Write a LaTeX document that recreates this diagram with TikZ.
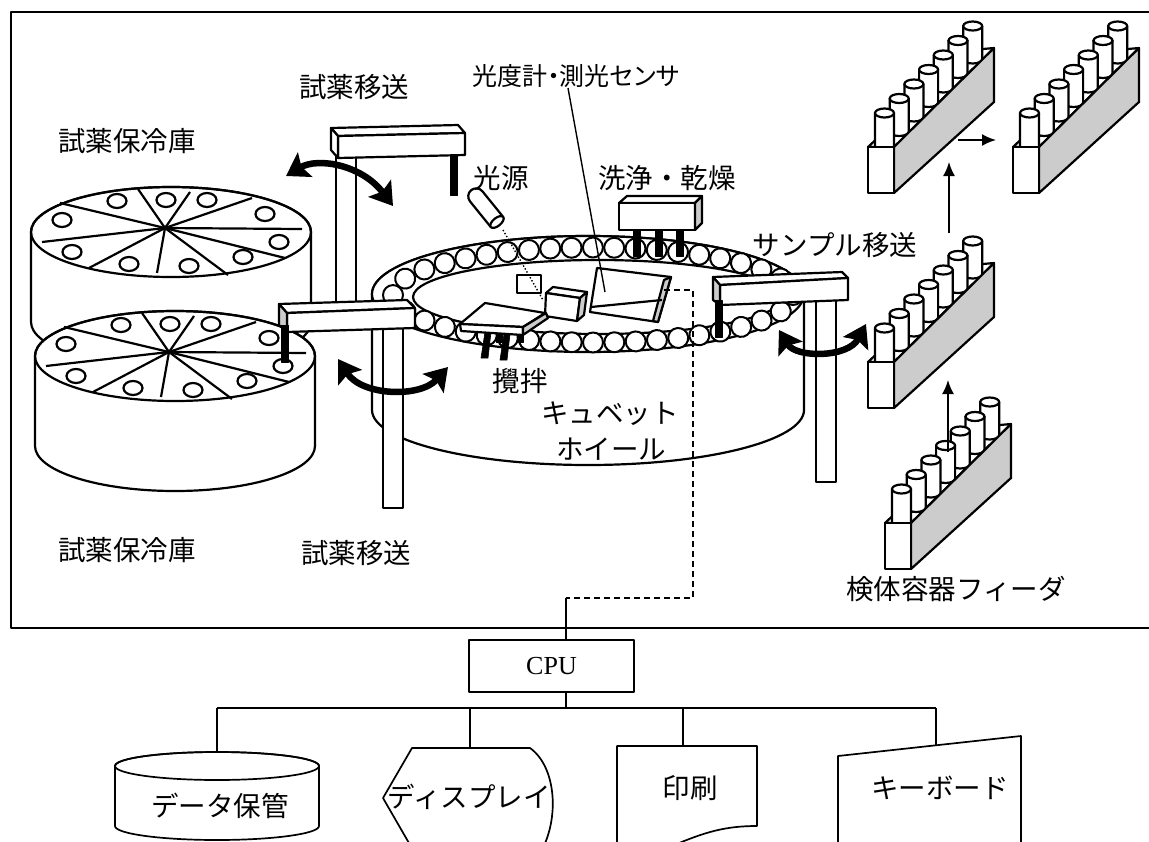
\documentclass[tikz,border=0pt]{standalone}
\usepackage{fontspec}
\newfontfamily\jpfont{Noto Sans CJK JP}
\newfontfamily\jppfont[RawFeature=+palt]{Noto Sans CJK JP}
\newfontfamily\cpufont{Liberation Serif}
\usetikzlibrary{arrows.meta,decorations.markings}

\newcommand\jp{\jpfont\fontsize{27.5}{30}\selectfont}
\newcommand\jpsmall{\jppfont\fontsize{25}{28}\selectfont}

% spokes and wells on the top of a reagent cooler
\newcommand\coolertop{%
  \foreach \ex/\ey in {-111/-29,-33/-43,19/-40,81/-34,131/-3,114/26,57/43,-14/41,-82/36,-129/10}
    \draw (-6,-4) -- (\ex,\ey);
  \foreach \wx/\wy in {-54/-31,-5/-32,36/-32,94/-18,108/10,72/25,18/34,-42/32,-99/20,-109/-12}
    \draw[fill=white] (\wx,\wy) ellipse [x radius=9.5, y radius=7];
}
% reagent cooler: cylinder centred on its top face
\newcommand\cooler[2]{%
  \begin{scope}[shift={(#1,#2)}]
    \filldraw[fill=white] (-140,0) -- (-140,90)
      arc[start angle=180,end angle=0,x radius=140,y radius=45] -- (140,0)
      arc[start angle=0,end angle=-180,x radius=140,y radius=45] -- cycle;
    \draw (0,0) ellipse [x radius=140, y radius=45];
    \coolertop
  \end{scope}}
% sample rack with seven tubes; #1,#2 = top-left corner of the front face
\newcommand\rack[2]{%
  \begin{scope}[shift={(#1,#2)}]
    \filldraw[fill=white] (0,0) -- (104,-97) -- (126,-99) -- (26,0) -- cycle;
    \foreach \i in {6,5,...,0} {
      \pgfmathsetmacro\tx{16.5+14.7*\i}
      \pgfmathsetmacro\tb{-1-14.5*\i}
      \pgfmathsetmacro\tt{\tb-33}
      \filldraw[fill=white] (\tx-9.5,\tt) -- (\tx-9.5,\tb)
        arc[start angle=180,end angle=0,x radius=9.5,y radius=4.5] -- (\tx+9.5,\tt) -- cycle;
      \draw[fill=white] (\tx,\tt) ellipse [x radius=9.5, y radius=4.5];
    }
    \filldraw[fill=gray!40] (26,0) -- (126,-99) -- (126,-45) -- (26,46) -- cycle;
    \filldraw[fill=white] (0,0) rectangle (26,46);
  \end{scope}}

\tikzset{
  part/.style={line width=2.2pt, line join=round},
  rod/.style={fill=black, draw=black, line width=0.6pt},
  shade/.style={fill=gray!40},
  swing/.style={line width=6.5pt,
    arrows={Stealth[length=22pt,width=28pt,inset=4pt]-Stealth[length=22pt,width=28pt,inset=4pt]}},
  feed/.style={line width=1.8pt, -{Latex[length=14pt,width=12pt]}},
  signal/.style={line width=1.7pt, dash pattern=on 6pt off 4pt},
  flow/.style={line width=1.7pt},
  lbl/.style={font=\jp, inner sep=0pt},
}

\begin{document}
\begin{tikzpicture}[x=1pt, y=-1pt, part]
\useasboundingbox (0,0) rectangle (1149,841);

% analyser frame
\draw[line width=2.6pt] (11,12) rectangle (1165,628);

% reagent coolers
\cooler{171}{232}
\cooler{175}{356}

% upper reagent arm: post and beam
\filldraw[fill=white] (336,157) rectangle (356,304);
\filldraw[fill=white] (331,128) -- (458,125) -- (465,133) -- (338,136) -- cycle;
\filldraw[fill=white] (338,136) -- (465,133) -- (465,155) -- (338,158) -- cycle;
\filldraw[fill=white] (331,128) -- (338,136) -- (338,158) -- (331,150) -- cycle;
\filldraw[rod] (450,155) rectangle (457,195);

% cuvette wheel
\filldraw[fill=white] (372,294) -- (372,410)
  arc[start angle=180,end angle=0,x radius=216,y radius=55] -- (804,294)
  arc[start angle=0,end angle=-180,x radius=216,y radius=58] -- cycle;
\draw[fill=white] (588,294) ellipse [x radius=216, y radius=58];
\draw[fill=white] (598,297) ellipse [x radius=185, y radius=37];
\path[decorate, decoration={markings,
    mark=between positions 0 and 0.99 step 0.025 with
      {\draw[fill=white, line width=2pt] (0,0) circle [radius=10pt];}}]
  (593,295) ellipse [x radius=200, y radius=47.5];

% photometer and sensor
\filldraw[fill=white] (597,268) -- (671,277) -- (658,322) -- (590,312) -- cycle;
\filldraw[shade] (664,280) -- (671,277) -- (658,322) -- (653,321) -- cycle;
\draw (591,307) -- (662,300);
\filldraw[fill=white] (546,293) -- (553,287) -- (587,292) -- (580,298) -- cycle;
\filldraw[fill=white] (546,293) -- (580,298) -- (577,321) -- (545,316) -- cycle;
\filldraw[shade] (580,298) -- (587,292) -- (584,315) -- (577,321) -- cycle;
\draw[fill=white] (517,275) rectangle (541,293);

% stirrer
\filldraw[rod] (485,332) -- (491,332) -- (488,358) -- (481,358) -- cycle;
\filldraw[rod] (504,334) -- (510,334) -- (507,360) -- (500,360) -- cycle;
\filldraw[rod] (496,333) rectangle (502,342);
\filldraw[rod] (517,333) rectangle (523,342);
\filldraw[fill=white] (460,324) -- (485,303) -- (545,313) -- (523,327) -- cycle;
\filldraw[fill=white] (460,324) -- (523,327) -- (523,335) -- (461,331) -- cycle;
\filldraw[shade] (523,327) -- (546,313) -- (548,318) -- (523,335) -- cycle;

% light source and optical path
\draw[line width=1.4pt, dotted] (503,230) -- (543,300);
\begin{scope}[shift={(497,222)}, rotate=39]
  \filldraw[fill=white] (-8,0) -- (-8,-33)
    arc[start angle=180,end angle=360,radius=8] -- (8,0) -- cycle;
  \draw[fill=white] (0,0) ellipse [x radius=8, y radius=4];
\end{scope}

% washing and drying unit
\filldraw[fill=white] (619,203) -- (627,196) -- (702,196) -- (695,203) -- cycle;
\filldraw[fill=white] (619,203) rectangle (695,230);
\filldraw[shade] (695,203) -- (702,196) -- (702,223) -- (695,230) -- cycle;
\foreach \rx in {633,655,676}
  \filldraw[rod] (\rx,230) rectangle (\rx+7,256);

% lower reagent arm
\filldraw[fill=white] (383,328) rectangle (403,508);
\filldraw[fill=white] (279,304) -- (407,300) -- (415,308) -- (287,313) -- cycle;
\filldraw[fill=white] (287,313) -- (415,308) -- (415,328) -- (287,332) -- cycle;
\filldraw[shade] (279,304) -- (287,313) -- (287,332) -- (279,325) -- cycle;
\filldraw[rod] (281,325) rectangle (288,362);

% sample arm
\filldraw[fill=white] (816,298) rectangle (836,482);
\filldraw[fill=white] (713,277) -- (842,272) -- (848,278) -- (720,285) -- cycle;
\filldraw[fill=white] (720,285) -- (848,278) -- (848,300) -- (720,305) -- cycle;
\filldraw[shade] (713,277) -- (720,285) -- (720,305) -- (713,300) -- cycle;
\filldraw[rod] (715,300) rectangle (722,337);

% swing arrows of the arms
\draw[swing] (286,176) .. controls (318,157) and (362,165) .. (393,206);
\draw[swing] (338,359) .. controls (362,396) and (420,398) .. (448,367);
\draw[swing] (779,330) .. controls (796,358) and (848,358) .. (866,324);

% sample racks
\rack{868}{147}
\rack{1013}{147}
\rack{868}{362}
\rack{885}{523}
\coordinate (r4) at (948,452);
\coordinate (r3) at (948,380);
\coordinate (r3b) at (949,233);
\coordinate (r1) at (949,162);
\coordinate (r1r) at (958,140);
\coordinate (r2) at (996,140);
\draw[feed] (r4) -- (r3);
\draw[feed] (r3b) -- (r1);
\draw[feed] (r1r) -- (r2);

% signal path to the controller
\node[draw, flow, minimum width=165pt, minimum height=52pt, inner sep=0pt,
      font=\cpufont\fontsize{26}{28}\selectfont] (cpu) at (551.5,666) {CPU};
\coordinate (photo) at (664,290);
\coordinate (tap) at (566,598);
\draw[signal] (photo) -- (693,290) -- (693,598) -- (tap);
\draw[flow] (tap) -- (tap |- cpu.north);
\coordinate (bus) at (566,708);
\draw[flow] (cpu.south -| bus) -- (bus);
\coordinate (bus-l) at (217,708);
\coordinate (bus-r) at (936,708);
\draw[flow] (bus-l) -- (bus-r);

% peripherals
\coordinate (store-top) at (217,752);
\coordinate (disp-top) at (470,748);
\coordinate (print-top) at (683,746);
\coordinate (kbd-top) at (936,745.3);
\draw[flow] (bus-l) -- (store-top);
\draw[flow] (bus-l -| disp-top) -- (disp-top);
\draw[flow] (bus-l -| print-top) -- (print-top);
\draw[flow] (bus-r) -- (kbd-top);

\filldraw[flow, fill=white] (115,766) -- (115,826)
  arc[start angle=180,end angle=0,x radius=102,y radius=14] -- (319,766)
  arc[start angle=0,end angle=-180,x radius=102,y radius=14] -- cycle;
\draw[flow] (217,766) ellipse [x radius=102, y radius=14];
\draw[flow] (413,850) -- (383,798) -- (412,748) -- (530,748)
  .. controls (558,768) and (560,825) .. (537,858);
\draw[flow] (617,850) -- (617,746) -- (757,746) -- (757,826)
  .. controls (725,826) and (705,832) .. (672,846);
\draw[flow] (838,850) -- (838,756) -- (1021,736) -- (1021,850);

% labels
\draw[line width=1.4pt] (568,88) -- (605,292);
\node[lbl] (l-cool1) at (127,141) {試薬保冷庫};
\node[lbl] (l-cool2) at (127,550) {試薬保冷庫};
\node[lbl] (l-arm1) at (354,87) {試薬移送};
\node[lbl] (l-arm2) at (356,553) {試薬移送};
\node[lbl, font=\jpsmall] (l-photo) at (576,76) {光度計・測光センサ};
\node[lbl] (l-lamp) at (501,178) {光源};
\node[lbl] (l-wash) at (667,178) {洗浄・乾燥};
\node[lbl] (l-sample) at (835,245) {サンプル移送};
\node[lbl] (l-stir) at (520,381) {攪拌};
\node[lbl] (l-wheel1) at (610,414) {キュベット};
\node[lbl] (l-wheel2) at (611,449) {ホイール};
\node[lbl] (l-feeder) at (956,589) {検体容器フィーダ};
\node[lbl] (store) at (220,806) {データ保管};
\node[lbl] (disp) at (469,797) {ディスプレイ};
\node[lbl] (print) at (690,788) {印刷};
\node[lbl] (kbd) at (940,788) {キーボード};
\end{tikzpicture}
\end{document}
